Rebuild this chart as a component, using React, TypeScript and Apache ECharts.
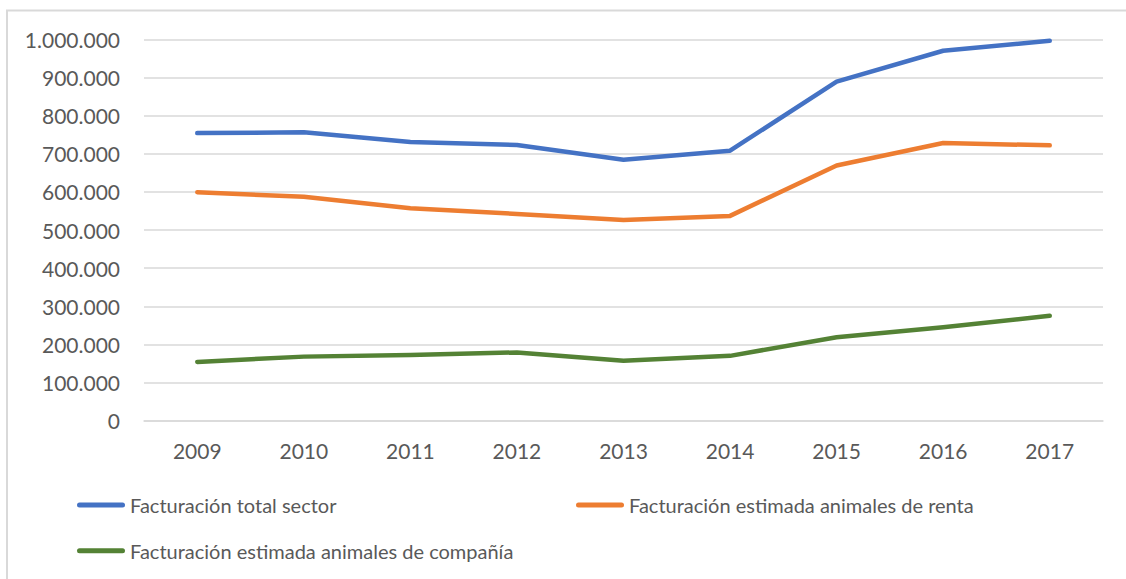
import React, { useEffect, useRef } from "react";
import * as echarts from "echarts";

const years = ["2009", "2010", "2011", "2012", "2013", "2014", "2015", "2016", "2017"];
const totalSector = [754000, 756000, 731000, 723000, 684000, 708000, 889000, 970000, 996000];
const animalesRenta = [599000, 587000, 557000, 542000, 526000, 537000, 669000, 728000, 722000];
const animalesCompania = [154000, 168000, 172000, 179000, 157000, 170000, 219000, 245000, 275000];
const seriesNames = [
  "Facturación total sector",
  "Facturación estimada animales de renta",
  "Facturación estimada animales de compañía",
];
const colors = ["#4472C4", "#ED7D31", "#548235"];

const FONT = "Lato, 'Liberation Sans', sans-serif";
const TEXT = "#595959";
const GRID = "#D9D9D9";
const ICON = "path://M2.5,0 H45.5 A2.5,2.5 0 0 1 45.5,5 H2.5 A2.5,2.5 0 0 1 2.5,0 Z";

function fmt(v: number): string {
  return String(Math.round(v)).replace(/\B(?=(\d{3})+(?!\d))/g, ".");
}

export default function App() {
  const ref = useRef<HTMLDivElement>(null);
  useEffect(() => {
    if (!ref.current) return;
    const chart = echarts.init(ref.current, undefined, { renderer: "svg" });
    const legendBase = {
      orient: "horizontal" as const,
      padding: 0,
      itemWidth: 48,
      itemHeight: 5,
      icon: ICON,
      textStyle: { color: TEXT, fontSize: 20, fontFamily: FONT, lineHeight: 24 },
    };
    chart.setOption({
      animation: false,
      backgroundColor: "#ffffff",
      color: colors,
      textStyle: { fontFamily: FONT },
      graphic: [
        {
          type: "rect",
          shape: { x: 7, y: 10.5, width: 1140, height: 600 },
          style: { fill: "none", stroke: GRID, lineWidth: 2 },
          silent: true,
        },
      ],
      grid: { left: 144, right: 23, top: 39.3, bottom: 158.3, containLabel: false },
      xAxis: {
        type: "category",
        data: years,
        boundaryGap: true,
        axisLine: { show: true, lineStyle: { color: GRID, width: 1.5 } },
        axisTick: { show: false },
        axisLabel: { color: TEXT, fontSize: 21, fontFamily: FONT, margin: 19 },
      },
      yAxis: {
        type: "value",
        min: 0,
        max: 1000000,
        interval: 100000,
        axisLine: { show: false },
        axisTick: { show: false },
        splitLine: { lineStyle: { color: GRID, width: 1.5 } },
        axisLabel: {
          color: TEXT,
          fontSize: 21,
          fontFamily: FONT,
          margin: 24,
          formatter: (v: number) => fmt(v),
        },
      },
      legend: [
        { ...legendBase, left: 77, top: 493, data: [seriesNames[0]] },
        { ...legendBase, left: 576, top: 493, data: [seriesNames[1]] },
        { ...legendBase, left: 77, top: 538.7, data: [seriesNames[2]] },
      ],
      series: [totalSector, animalesRenta, animalesCompania].map((d, i) => ({
        name: seriesNames[i],
        type: "line",
        data: d,
        symbol: "none",
        lineStyle: { width: 4.5, color: colors[i], cap: "round", join: "round" },
        itemStyle: { color: colors[i] },
      })),
    });
    return () => chart.dispose();
  }, []);
  return (
    <div
      ref={ref}
      style={{ position: "fixed", left: 0, top: 0, width: 1126, height: 579, background: "#fff" }}
    />
  );
}
